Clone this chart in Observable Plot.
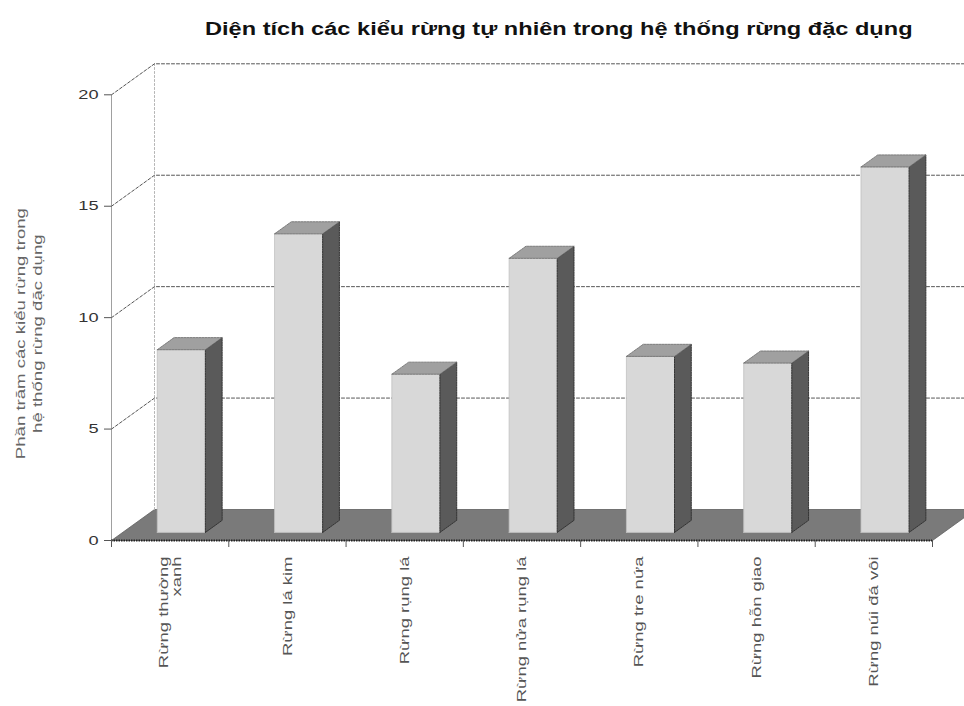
<!DOCTYPE html>
<html>
<head>
<meta charset="utf-8">
<script src="https://cdn.jsdelivr.net/npm/d3@7"></script>
<script src="https://cdn.jsdelivr.net/npm/@observablehq/plot@0.6"></script>
<style>
  html, body { margin: 0; padding: 0; background: #fff; overflow: hidden; width: 964px; height: 706px; }
  #title { position: absolute; left: 205px; top: 19px; font: bold 18px "Liberation Sans", Arial, sans-serif; color: #111; white-space: nowrap; transform: scaleX(1.31); transform-origin: left center; }
  #chart { position: absolute; left: 0; top: 56px; }
</style>
</head>
<body>
<div id="title"></div>
<div id="chart"></div>
<script>
// ---- data ----
const titleText = "Diện tích các kiểu rừng tự nhiên trong hệ thống rừng đặc dụng";
const yLabel = "Phần trăm các kiểu rừng trong\nhệ thống rừng đặc dụng";
const categories = ["Rừng thường\nxanh", "Rừng lá kim", "Rừng rụng lá", "Rừng nửa rụng lá", "Rừng tre nứa", "Rừng hỗn giao", "Rừng núi đá vôi"];
const values = [8.2, 13.4, 7.1, 12.3, 7.9, 7.6, 16.4];
const yTicks = [0, 5, 10, 15, 20];

document.getElementById("title").textContent = titleText;

// ---- 3D projection helpers (depth expressed in data units) ----
const n = categories.length;
const yMax = 20;
const kx = 0.3666;   // x shift (data units) for full depth
const ky = 1.391;    // y shift (data units) for full depth
const d0 = 0.26, d1 = 0.65; // bar front/back depth
const hw = 0.205;           // bar half width
const P = (x, y, d, id) => ({x: x + d * kx, y: y + d * ky, id});

const frontFaces = [], sideFaces = [], topFaces = [];
values.forEach((v, i) => {
  const xl = i + 0.5 - hw, xr = i + 0.5 + hw;
  frontFaces.push(...[[xl,0,d0],[xr,0,d0],[xr,v,d0],[xl,v,d0],[xl,0,d0]].map(p => P(p[0], p[1], p[2], i)));
  sideFaces.push(...[[xr,0,d0],[xr,0,d1],[xr,v,d1],[xr,v,d0],[xr,0,d0]].map(p => P(p[0], p[1], p[2], i)));
  topFaces.push(...[[xl,v,d0],[xr,v,d0],[xr,v,d1],[xl,v,d1],[xl,v,d0]].map(p => P(p[0], p[1], p[2], i)));
});
const floorPoly = [[0,0,0],[n,0,0],[n,0,1],[0,0,1],[0,0,0]].map(p => P(p[0], p[1], p[2], "floor"));
const grid = [];
yTicks.filter(t => t > 0).forEach(t => {
  grid.push(P(0, t, 0, t), P(0, t, 1, t), P(n, t, 1, t));
});
const backEdge = [P(0, 0, 1, "b"), P(0, yMax, 1, "b")];
const frontEdge = [P(0, 0, 0, "f"), P(0, yMax, 0, "f")];

const font = "Liberation Sans, Arial, sans-serif";

const chart = Plot.plot({
  width: 964,
  height: 650,
  marginLeft: 111,
  marginRight: 32,
  marginTop: 38.3,
  marginBottom: 166,
  style: {fontFamily: font, background: "#fff", overflow: "visible"},
  x: {domain: [0, n], axis: null},
  y: {domain: [0, yMax], axis: null},
  marks: [
    // floor
    Plot.line(floorPoly, {x: "x", y: "y", z: "id", fill: "#7a7a7a", stroke: "#5e5e5e", strokeWidth: 0.8}),
    // walls
    Plot.line(backEdge, {x: "x", y: "y", stroke: "#b5b5b5", strokeWidth: 1, strokeDasharray: "2 2"}),
    Plot.line(frontEdge, {x: "x", y: "y", stroke: "#a0a0a0", strokeWidth: 1}),
    Plot.line(grid, {x: "x", y: "y", z: "id", stroke: "#555", strokeWidth: 1, strokeDasharray: "3 2"}),
    // bars
    Plot.line(frontFaces, {x: "x", y: "y", z: "id", fill: "#d8d8d8", stroke: "#c0c0c0", strokeWidth: 0.8}),
    Plot.line(sideFaces, {x: "x", y: "y", z: "id", fill: "#5a5a5a", stroke: "#333", strokeWidth: 1, strokeDasharray: "1.5 1"}),
    Plot.line(topFaces, {x: "x", y: "y", z: "id", fill: "#a0a0a0", stroke: "#6a6a6a", strokeWidth: 0.8, strokeDasharray: "2 1"}),
    // x axis
    Plot.ruleY([0], {stroke: "#222", strokeWidth: 2, strokeDasharray: "1.5 1"}),
    Plot.axisX({ticks: d3.range(n + 1), tickFormat: () => "", label: null, tickSize: 7, stroke: "#555"}),
    Plot.text(categories, {
      x: (d, i) => i + 0.5, y: 0, text: d => d, rotate: -90,
      textAnchor: "end", lineAnchor: "middle", dy: 16,
      fontSize: 13, fill: "#555", lineHeight: 1.0
    }),
    // y axis
    Plot.axisY({ticks: yTicks, label: null, tickSize: 7, tickPadding: 6, fontSize: 13, fill: "#333", stroke: "#555"}),
    Plot.text([yLabel], {
      frameAnchor: "left", text: d => d, rotate: -90, textAnchor: "middle", lineAnchor: "middle",
      dx: -83, dy: 16, fontSize: 12, fill: "#666", lineHeight: 1.4
    })
  ]
});
document.getElementById("chart").append(chart);

// stretch text horizontally (along the reading direction) like the reference
const stretch = (sel, s) => sel.each(function() {
  const t = this.getAttribute("transform") || "";
  this.setAttribute("transform", t + ` scale(${s},1)`);
});
const textGroups = d3.select(chart).selectAll('g[aria-label="text"]').nodes();
stretch(d3.select(textGroups[0]).selectAll("text"), 1.42);
stretch(d3.select(textGroups[1]).selectAll("text"), 1.55);
stretch(d3.select(chart).selectAll('g[aria-label="y-axis tick label"] text'), 1.4);
</script>
</body>
</html>
